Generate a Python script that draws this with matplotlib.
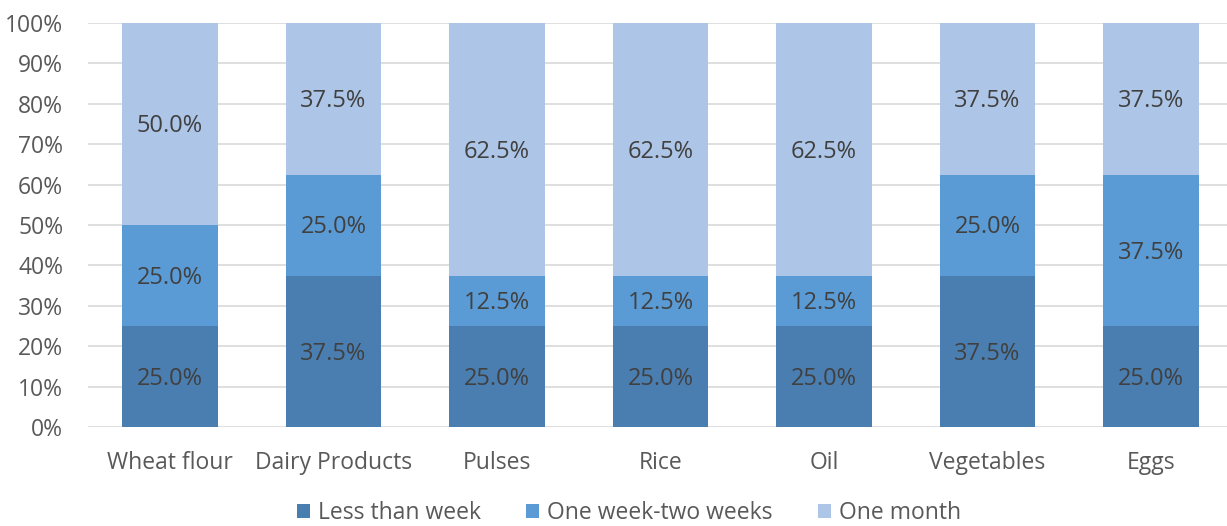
import matplotlib.pyplot as plt
import numpy as np

plt.rcParams['font.family'] = ['Open Sans', 'DejaVu Sans']

categories = ["Wheat flour", "Dairy Products", "Pulses", "Rice", "Oil", "Vegetables", "Eggs"]
less_than_week = [25.0, 37.5, 25.0, 25.0, 25.0, 37.5, 25.0]
one_two_weeks = [25.0, 25.0, 12.5, 12.5, 12.5, 25.0, 37.5]
one_month = [50.0, 37.5, 62.5, 62.5, 62.5, 37.5, 37.5]
series = [("Less than week", less_than_week, "#4a7eb0"),
          ("One week-two weeks", one_two_weeks, "#5b9bd5"),
          ("One month", one_month, "#adc5e7")]

W, H = 1227, 526
fig = plt.figure(figsize=(W / 100, H / 100), dpi=100)
ax = fig.add_axes([88.25 / W, 1 - 427 / H, (1232.75 - 88.25) / W, (427 - 23) / H])

x = np.arange(len(categories))
bottom = np.zeros(len(categories))
for name, vals, col in series:
    ax.bar(x, vals, 0.587, bottom=bottom, color=col, label=name, zorder=2)
    for xi, b, v in zip(x, bottom, vals):
        ax.text(xi, b + v / 2 - 0.6, f"{v:.1f}%", ha='center', va='center',
                fontsize=17, color='#404040', zorder=3)
    bottom += vals

ax.set_xlim(-0.5, 6.5)
ax.set_ylim(0, 100)
ax.set_yticks(range(0, 101, 10))
ax.set_yticklabels([f"{t}%" for t in range(0, 101, 10)])
ax.set_xticks(x)
ax.set_xticklabels(categories)
ax.tick_params(axis='both', length=0, labelsize=16.5, labelcolor='#595959')
ax.tick_params(axis='x', pad=17)
ax.tick_params(axis='y', pad=18)
ax.grid(axis='y', color='#d9d9d9', linewidth=1.2, zorder=0)
for s in ax.spines.values():
    s.set_visible(False)

fig.legend(loc='center', bbox_to_anchor=(629 / W, 1 - 513 / H), ncol=3, frameon=False,
           fontsize=16.5, labelcolor='#595959', handlelength=0.55, handleheight=0.55,
           handletextpad=0.35, columnspacing=2.0, borderpad=0.1)

fig.savefig("out.png", dpi=100)
